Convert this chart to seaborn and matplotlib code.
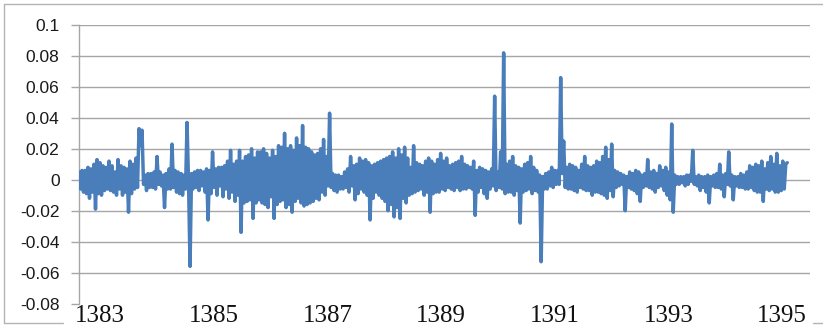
import matplotlib
matplotlib.use("Agg")
import matplotlib.pyplot as plt
from matplotlib.lines import Line2D
import numpy as np
import pandas as pd
import seaborn as sns

# daily returns, in thousandths, left to right
returns_1383 = [5, -6, 6, -8, 6, -9, 8, -12, 7, -8, 10, -19, 13, -9, 11, -10, 9, -7, 8, -6,
                12, -7, 9, -8, 5, -10, 13, -6, 9, -10, 8, -8, 7, -21, 12, -9, 10, -6, 14, -5,
                33, 22, 32, -3, 3, -7, 4, -5, 4, -5, 5, -6, 15, -3, 5, -4, 3, -18, 4, -6,
                7, -6, 23, -5, 6, -8, 5, -9, 4, -10, 3, -6, 37, -2, -56, 4, -6, 5, -5, 6]
returns_1385 = [-7, 6, -4, 5, -8, 7, -26, 6, -9, 18, -5, 7, -10, 8, -4, 8, -11, 9, -6, 12,
                -12, 19, -8, 10, -14, 12, -10, 19, -34, 12, -15, 15, -14, 16, -13, 20, -25, 14, -15, 18,
                -13, 18, -15, 20, -16, 17, -18, 14, -11, 19, -25, 15, -16, 22, -14, 21, -13, 30, -18, 20,
                -16, 22, -21, 19, -14, 27, -12, 22, -15, 35, -17, 21, -16, 20, -15, 18, -14, 16, -12, 17]
returns_1387 = [-13, 20, -8, 26, -10, 15, -4, 43, -5, 4, -7, 3, -8, 3, -6, 2, -6, 5, -5, 7,
                -8, 15, -4, 9, -13, 10, -9, 14, -6, 12, -8, 13, -10, 11, -26, 9, -12, 10, -8, 11,
                -10, 12, -12, 13, -14, 14, -20, 15, -16, 18, -24, 14, -18, 20, -25, 16, -12, 21, -15, 14,
                -10, 8, -9, 22, -8, 11, -7, 10, -6, 9, -10, 12, -8, 14, -21, 12, -9, 10, -8, 13]
returns_1389 = [-8, 17, -6, 12, -7, 14, -5, 9, -6, 10, -7, 11, -5, 12, -7, 15, -6, 10, -6, 9,
                -5, 8, -6, 12, -23, 6, -8, 8, -5, 7, -9, 6, -12, 5, -6, 7, -4, 54, -7, 5,
                -5, 18, -6, 82, -9, 10, -8, 12, -8, 15, -10, 9, -7, 8, -28, 7, -8, 10, -7, 11,
                -6, 15, -9, 8, -7, 6, -8, 3, -53, 2, -6, 4, -6, 5, -4, 8, -5, 6, -3, 6]
returns_1391 = [-3, 66, 4, 25, -5, 8, -6, 10, -6, 9, -7, 8, -8, 6, -5, 10, -6, 15, -7, 9,
                -7, 8, -10, 9, -8, 12, -8, 11, -9, 15, -10, 21, -12, 13, -7, 23, -11, 6, -5, 5,
                -4, 4, -3, 3, -20, 2, -5, 5, -6, 4, -7, 6, -9, 5, -14, 3, -5, 4, -4, 13,
                -5, 5, -6, 6, -8, 4, -5, 9, -4, 6, -7, 8, -10, 5, -13, 36, -21, 3, -3, 2]
returns_1393 = [-3, 2, -2, 2, -4, 3, -3, 3, -1, 19, -3, 2, -4, 3, -7, 2, -5, 2, -8, 3,
                -15, 2, -4, 3, -5, 4, -5, 10, -6, 3, -11, 4, -3, 18, -4, 3, -13, 2, -4, 2,
                -5, 4, -5, 3, -6, 5, -6, 9, -5, 8, -7, 10, -8, 9, -8, 12, -14, 7, -6, 11,
                -7, 15, -6, 10, -8, 17, -8, 9, -7, 12, -6, 10, 11]

year_ticks = [1383, 1385, 1387, 1389, 1391, 1393, 1395]
y_ticks = [-0.08, -0.06, -0.04, -0.02, 0, 0.02, 0.04, 0.06, 0.08, 0.1]
y_labels = ["-0.08", "-0.06", "-0.04", "-0.02", "0", "0.02", "0.04", "0.06", "0.08", "0.1"]
first_day, last_day = 1382.63, 1395.09

values = np.array(returns_1383 + returns_1385 + returns_1387 +
                  returns_1389 + returns_1391 + returns_1393) / 1000.0
df = pd.DataFrame({"year": np.linspace(first_day, last_day, len(values)),
                   "return": values})

sns.set_style("white")
grid_col = "#a6a6a6"

fig = plt.figure(figsize=(8.23, 3.28), dpi=100)
ax = fig.add_axes([79 / 823, 1 - 303.5 / 328, (810 - 79) / 823, (303.5 - 25) / 328])

sns.lineplot(data=df, x="year", y="return", ax=ax, color="#4a7ebb",
             linewidth=2.5, estimator=None, sort=False, zorder=3)

ax.set_xlim(first_day, 1395.49)
ax.set_ylim(-0.08, 0.1)
ax.set_xlabel("")
ax.set_ylabel("")

ax.set_yticks(y_ticks)
ax.set_yticklabels(y_labels, fontfamily="Liberation Sans", fontsize=12.5, color="#1a1a1a")
ax.tick_params(axis="y", length=6, width=1, color=grid_col, pad=8, left=True)
ax.set_xticks(year_ticks)
ax.set_xticklabels([str(y) for y in year_ticks], fontfamily="Liberation Serif",
                   fontsize=18, color="#111111")
ax.tick_params(axis="x", length=0, pad=1)

ax.yaxis.grid(True, color=grid_col, linewidth=1)
ax.get_ygridlines()[0].set_visible(False)
for side in ["top", "right", "bottom"]:
    ax.spines[side].set_visible(False)
ax.spines["left"].set_color(grid_col)
ax.spines["left"].set_linewidth(1)

# light frame round the picture
frame = dict(color="#b4b4b4", linewidth=1, transform=fig.transFigure)
fig.add_artist(Line2D([4 / 823, 1], [1 - 4 / 328, 1 - 4 / 328], **frame))
fig.add_artist(Line2D([4 / 823, 4 / 823], [1 - 4 / 328, 1 - 323 / 328], **frame))
fig.add_artist(Line2D([4 / 823, 63 / 823], [1 - 323 / 328, 1 - 323 / 328], **frame))
fig.add_artist(Line2D([813 / 823, 1], [1 - 323 / 328, 1 - 323 / 328], **frame))

fig.savefig("out.png", dpi=100)
